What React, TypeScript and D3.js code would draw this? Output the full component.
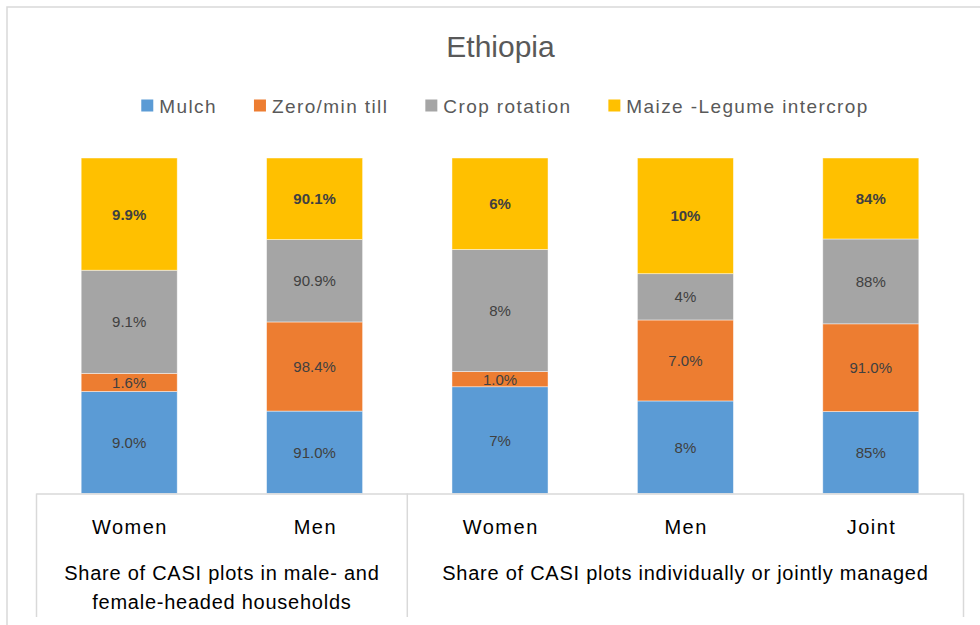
import React, { useMemo } from "react";
import * as d3 from "d3";

const categories = ["Women", "Men", "Women", "Men", "Joint"];
const seriesNames = ["Mulch", "Zero/min till", "Crop rotation", "Maize -Legume intercrop"];
const seriesKeys = ["mulch", "zeroTill", "cropRotation", "intercrop"];
const mulch = [9.0, 91.0, 7, 8, 85];
const zeroTill = [1.6, 98.4, 1.0, 7.0, 91.0];
const cropRotation = [9.1, 90.9, 8, 4, 88];
const intercrop = [9.9, 90.1, 6, 10, 84];
const mulchLabels = ["9.0%", "91.0%", "7%", "8%", "85%"];
const zeroTillLabels = ["1.6%", "98.4%", "1.0%", "7.0%", "91.0%"];
const cropRotationLabels = ["9.1%", "90.9%", "8%", "4%", "88%"];
const intercropLabels = ["9.9%", "90.1%", "6%", "10%", "84%"];
const colors = ["#5B9BD5", "#ED7D31", "#A5A5A5", "#FFC000"];
const groupLabels = [
  ["Share of CASI plots in male- and", "female-headed households"],
  ["Share of CASI plots individually or jointly managed"],
];
const groupSizes = [2, 3];
const title = "Ethiopia";

const FONT = "'Liberation Sans', Arial, sans-serif";

function measure(text: string, size: number, ls: number) {
  const c = document.createElement("canvas");
  const ctx = c.getContext("2d")!;
  ctx.font = `${size}px 'Liberation Sans', Arial, sans-serif`;
  return ctx.measureText(text).width + ls * text.length;
}

export default function App() {
  const W = 980;
  const H = 625;
  const plotLeft = 36.5;
  const plotRight = 963.5;
  const plotTop = 158;
  const plotBottom = 493.5;
  const axisBottom = 617;

  const x = d3
    .scaleBand<number>()
    .domain(d3.range(categories.length))
    .range([plotLeft, plotRight])
    .paddingInner(0.482)
    .paddingOuter(0.241);
  const y = d3.scaleLinear().domain([0, 1]).range([plotBottom, plotTop]);

  const rows = categories.map((_, i) => ({
    mulch: mulch[i],
    zeroTill: zeroTill[i],
    cropRotation: cropRotation[i],
    intercrop: intercrop[i],
  }));
  const labels = [mulchLabels, zeroTillLabels, cropRotationLabels, intercropLabels];
  const stacked = d3
    .stack<any>()
    .keys(seriesKeys)
    .offset(d3.stackOffsetExpand)(rows);

  const step = x.step();
  const slotStart = (i: number) => (x(i) as number) - (step - x.bandwidth()) / 2;

  const boundaries: number[] = [0];
  groupSizes.forEach((s) => boundaries.push(boundaries[boundaries.length - 1] + s));
  const boundaryX = boundaries.map((b) => (b < categories.length ? slotStart(b) : plotRight));

  const legendSize = 19;
  const legendLs = 1.4;
  const legend = useMemo(() => {
    const sq = 12;
    const gapText = 6;
    const gapItem = 37;
    const widths = seriesNames.map((n) => measure(n, legendSize, legendLs));
    const total =
      widths.reduce((a, w) => a + sq + gapText + w, 0) + gapItem * (seriesNames.length - 1);
    let cx = 505 - total / 2;
    return seriesNames.map((n, i) => {
      const item = { x: cx, name: n, color: colors[i] };
      cx += sq + gapText + widths[i] + gapItem;
      return item;
    });
  }, []);

  return (
    <svg
      width={W}
      height={H}
      style={{ position: "absolute", left: 0, top: 0, background: "#fff" }}
      fontFamily={FONT}
    >
      <rect x={0} y={0} width={W} height={H} fill="#fff" />
      <rect x={7} y={7} width={988} height={640} fill="#fff" stroke="#d9d9d9" strokeWidth={1.5} />
      <text x={500.5} y={57} textAnchor="middle" fontSize={30} fill="#595959">
        {title}
      </text>
      {legend.map((l) => (
        <g key={l.name}>
          <rect x={l.x} y={99.5} width={12} height={12} fill={l.color} />
          <text
            x={l.x + 18}
            y={113}
            fontSize={legendSize}
            letterSpacing={legendLs}
            fill="#595959"
          >
            {l.name}
          </text>
        </g>
      ))}
      {stacked.map((s, si) => (
        <g key={s.key} fill={colors[si]}>
          {s.map((d, i) => (
            <rect
              key={i}
              x={x(i)}
              y={y(d[1])}
              width={x.bandwidth()}
              height={y(d[0]) - y(d[1])}
              stroke="#ffffff"
              strokeOpacity={0.6}
              strokeWidth={0.75}
            />
          ))}
        </g>
      ))}
      {stacked.map((s, si) => (
        <g key={s.key + "-lab"}>
          {s.map((d, i) => (
            <text
              key={i}
              x={(x(i) as number) + x.bandwidth() / 2}
              y={(y(d[0]) + y(d[1])) / 2}
              dy="0.36em"
              textAnchor="middle"
              fontSize={15}
              fontWeight={si === 3 ? "bold" : "normal"}
              fill="#404040"
            >
              {labels[si][i]}
            </text>
          ))}
        </g>
      ))}
      <line x1={plotLeft} x2={plotRight} y1={plotBottom + 0.5} y2={plotBottom + 0.5} stroke="#d9d9d9" strokeWidth={1.5} />
      {boundaryX.map((bx, i) => (
        <line key={i} x1={bx} x2={bx} y1={plotBottom} y2={axisBottom} stroke="#d9d9d9" strokeWidth={1.5} />
      ))}
      {categories.map((c, i) => (
        <text
          key={i}
          x={(x(i) as number) + x.bandwidth() / 2 + 0.75}
          y={534}
          textAnchor="middle"
          fontSize={20}
          letterSpacing={1.5}
          fill="#000"
        >
          {c}
        </text>
      ))}
      {groupLabels.map((lines, gi) => {
        const cx = (boundaryX[gi] + boundaryX[gi + 1]) / 2;
        return (
          <text key={gi} textAnchor="middle" fontSize={20} letterSpacing={0.75} fill="#000">
            {lines.map((ln, li) => (
              <tspan key={li} x={cx} y={580 + li * 29}>
                {ln}
              </tspan>
            ))}
          </text>
        );
      })}
    </svg>
  );
}
